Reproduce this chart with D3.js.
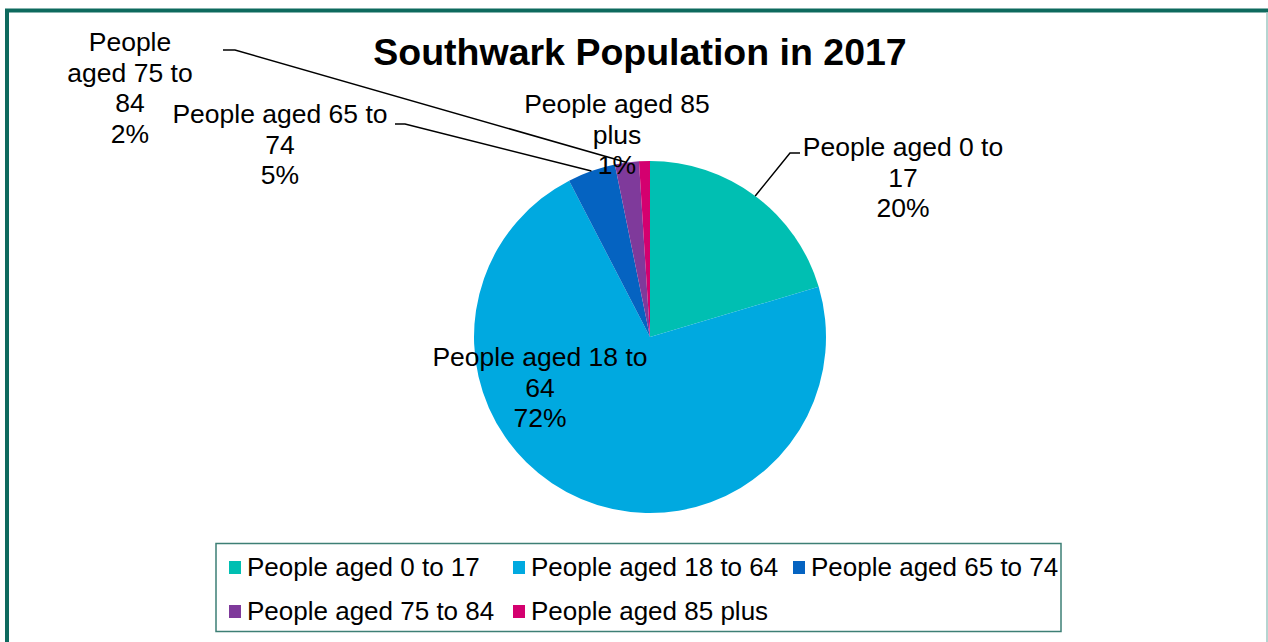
<!DOCTYPE html>
<html><head><meta charset="utf-8">
<script src="https://cdn.jsdelivr.net/npm/d3@7"></script>
<style>body{margin:0;background:#fff;}svg{display:block;font-family:Arial,"Liberation Sans",sans-serif;}</style>
</head><body>
<svg id="c" width="1268" height="642"></svg>
<script>
const categories = ["People aged 0 to 17","People aged 18 to 64","People aged 65 to 74","People aged 75 to 84","People aged 85 plus"];
const values = [20.4, 72.0, 4.4, 2.2, 1.0];
const percentLabels = ["20%","72%","5%","2%","1%"];
const labelLines = [["People aged 0 to","17","20%"],["People aged 18 to","64","72%"],["People aged 65 to","74","5%"],["People","aged 75 to","84","2%"],["People aged 85","plus","1%"]];
const colors = ["#00BFB2","#00A9E0","#0563C1","#7F3A9B","#D4006F"];
const title = "Southwark Population in 2017";

const svg = d3.select("#c");
// outer border
svg.append("rect").attr("x",7).attr("y",10.5).attr("width",1270).attr("height",650)
  .attr("fill","none").attr("stroke","#0E6A5E").attr("stroke-width",4);
svg.append("line").attr("x1",1267).attr("x2",1267).attr("y1",12).attr("y2",642).attr("stroke","#9CC7C2").attr("stroke-width",1.5);

svg.append("text").attr("x",640).attr("y",65).attr("text-anchor","middle")
  .attr("font-size",37.5).attr("font-weight","bold").text(title);

const cx=650, cy=337, r=176;
const pie = d3.pie().sort(null).value(d=>d)(values);
const arc = d3.arc().innerRadius(0).outerRadius(r);
const g = svg.append("g").attr("transform",`translate(${cx},${cy})`);
g.selectAll("path").data(pie).join("path").attr("d",arc).attr("fill",(d,i)=>colors[i]);

// labels: positions (center x, first baseline y)
const labelPos = [[903,156],[540,366],[280,123],[130,51],[617,113]];
const lh = 30.5;
labelLines.forEach((lines,i)=>{
  const t = svg.append("text").attr("text-anchor","middle").attr("font-size",26.5).attr("fill","#000");
  lines.forEach((l,j)=>t.append("tspan").attr("x",labelPos[i][0]).attr("y",labelPos[i][1]+j*lh).text(l));
});

// leader lines
function edge(i, frac){ const d=pie[i]; const a=d.startAngle+(d.endAngle-d.startAngle)*frac; return [cx+Math.sin(a)*r, cy-Math.cos(a)*r]; }
const leaders = [
  [[800,153],[790,153], edge(0,0.5)],
  [[395,124],[405,124], edge(2,0.5)],
  [[223,50],[235,50], edge(3,0.5)]
];
leaders.forEach(p=>{
  svg.append("path").attr("d",d3.line()(p)).attr("fill","none").attr("stroke","#000").attr("stroke-width",1.5);
});

// legend
svg.append("rect").attr("x",216).attr("y",543.5).attr("width",845).attr("height",88)
  .attr("fill","#fff").attr("stroke","#3D7F75").attr("stroke-width",1.5);
const legPos = [[229,567],[513,567],[793,567],[229,611],[513,611]];
categories.forEach((c,i)=>{
  const [x,y]=legPos[i];
  svg.append("rect").attr("x",x).attr("y",y-6).attr("width",12).attr("height",13).attr("fill",colors[i]);
  svg.append("text").attr("x",x+18).attr("y",y+9).attr("font-size",26).text(c);
});
</script>
</body></html>
